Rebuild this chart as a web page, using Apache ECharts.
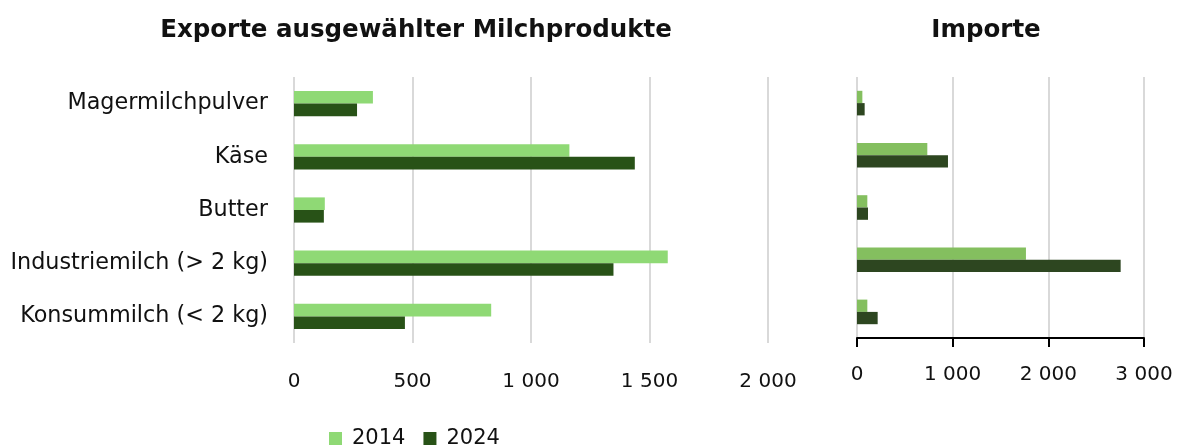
<!DOCTYPE html>
<html>
<head>
<meta charset="utf-8">
<script src="https://cdn.jsdelivr.net/npm/echarts@6/dist/echarts.min.js"></script>
<style>
  html, body { margin: 0; padding: 0; background: #fff; }
  #chart { width: 1183px; height: 445px; }
</style>
</head>
<body>
<div id="chart"></div>
<script>
var categories = ['Magermilchpulver', 'Käse', 'Butter', 'Industriemilch (> 2 kg)', 'Konsummilch (< 2 kg)'];
var years = ['2014', '2024'];
var export2014 = [333, 1162, 130, 1577, 832];
var export2024 = [266, 1438, 126, 1348, 468];
var import2014 = [56, 735, 108, 1766, 108];
var import2024 = [80, 951, 115, 2756, 216];

var font = '"DejaVu Sans", sans-serif';

function fmt(v) {
  return String(v).replace(/\B(?=(\d{3})+(?!\d))/g, ' ');
}

var option = {
  backgroundColor: '#fff',
  animation: false,
  textStyle: { fontFamily: font },
  title: [{
    text: 'Exporte ausgewählter Milchprodukte',
    left: 411,
    top: 13,
    textAlign: 'center',
    textStyle: { fontFamily: font, fontSize: 24.5, fontWeight: 'bold', color: '#111' }
  }, {
    text: 'Importe',
    left: 981,
    top: 13,
    textAlign: 'center',
    textStyle: { fontFamily: font, fontSize: 24.5, fontWeight: 'bold', color: '#111' }
  }],
  legend: {
    left: 324,
    top: 423,
    itemWidth: 13,
    itemHeight: 13,
    itemGap: 18,
    icon: 'rect',
    data: years,
    textStyle: { fontFamily: font, fontSize: 21, color: '#111', padding: [0, 0, 0, 5] }
  },
  grid: [
    { left: 294, top: 77, width: 474, height: 266 },
    { left: 857, top: 77, width: 287, height: 261 }
  ],
  xAxis: [{
    gridIndex: 0,
    type: 'value',
    min: 0, max: 2000, interval: 500,
    axisLine: { show: false },
    axisTick: { show: false },
    splitLine: { lineStyle: { color: '#d9d9d9', width: 2 } },
    axisLabel: { margin: 29, fontSize: 20, color: '#111', fontFamily: font, formatter: fmt }
  }, {
    gridIndex: 1,
    type: 'value',
    min: 0, max: 3000, interval: 1000,
    axisLine: { show: true, lineStyle: { color: '#000', width: 2 } },
    axisTick: { show: true, length: 9, lineStyle: { color: '#000', width: 2 } },
    splitLine: { lineStyle: { color: '#d9d9d9', width: 2 } },
    axisLabel: { margin: 27, fontSize: 20, color: '#111', fontFamily: font, formatter: fmt }
  }],
  yAxis: [{
    gridIndex: 0,
    type: 'category',
    inverse: true,
    data: categories,
    axisLine: { show: false },
    axisTick: { show: false },
    axisLabel: { margin: 26, fontSize: 22.3, color: '#111', fontFamily: font }
  }, {
    gridIndex: 1,
    type: 'category',
    inverse: true,
    data: categories,
    axisLine: { show: false },
    axisTick: { show: false },
    axisLabel: { show: false }
  }],
  series: [{
    name: '2014', type: 'bar', xAxisIndex: 0, yAxisIndex: 0,
    barWidth: 12.6, barGap: '0%',
    itemStyle: { color: '#8fd975' },
    data: export2014
  }, {
    name: '2024', type: 'bar', xAxisIndex: 0, yAxisIndex: 0,
    barWidth: 12.6, barGap: '0%',
    itemStyle: { color: '#285217' },
    data: export2024
  }, {
    name: '2014', type: 'bar', xAxisIndex: 1, yAxisIndex: 1,
    barWidth: 12.3, barGap: '0%',
    itemStyle: { color: '#84bf5f' },
    data: import2014
  }, {
    name: '2024', type: 'bar', xAxisIndex: 1, yAxisIndex: 1,
    barWidth: 12.3, barGap: '0%',
    itemStyle: { color: '#2d4620' },
    data: import2024
  }]
};

var myChart = echarts.init(document.getElementById('chart'));
myChart.setOption(option);
</script>
</body>
</html>
